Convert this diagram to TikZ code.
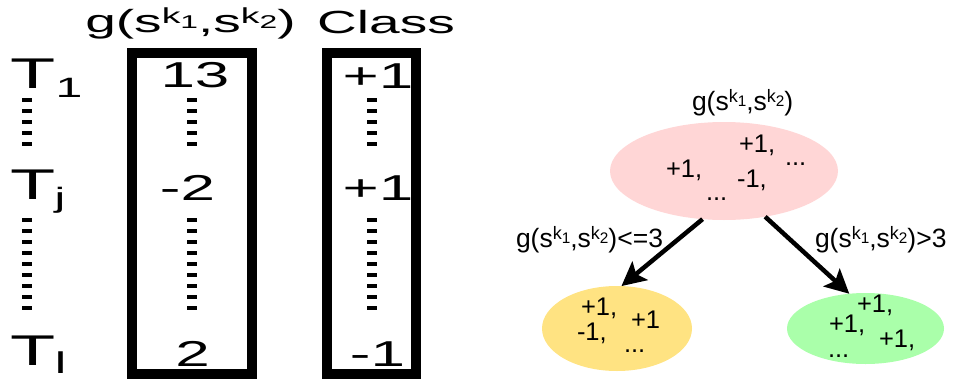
\documentclass[tikz,border=0pt]{standalone}
\usepackage{fontspec}
\usepackage{graphicx}
\setmainfont{Liberation Sans}
\usetikzlibrary{shapes.geometric,arrows.meta}
\definecolor{pinkfill}{RGB}{255,214,214}
\definecolor{yelfill}{RGB}{255,227,130}
\definecolor{grnfill}{RGB}{170,255,170}
\newcommand{\wx}[1]{\scalebox{1.72}[1]{#1}}
\newcommand{\kk}[1]{\raisebox{0.27em}{\scalebox{0.68}{k\raisebox{-0.22em}{\scalebox{0.85}{#1}}}}}
\newcommand{\gsk}{g(s\kk{1},s\kk{2})}
\begin{document}
\begin{tikzpicture}[x=1pt,y=-1pt,
  every node/.style={inner sep=0pt, outer sep=0pt},
  tletter/.style={anchor=base, font=\fontsize{43}{43}\selectfont},
  tsub/.style={anchor=base, font=\fontsize{28}{28}\selectfont},
  cell/.style={anchor=base, font=\fontsize{36}{36}\selectfont},
  head/.style={anchor=base, font=\fontsize{32}{32}\selectfont},
  colbox/.style={draw, line width=9.5pt, minimum height=321pt},
  dotcol/.style={line width=10pt, dash pattern=on 4pt off 7pt},
  tlab/.style={anchor=base west, font=\fontsize{26.5}{26.5}\selectfont},
  val/.style={anchor=base west, font=\fontsize{25.5}{25.5}\selectfont},
  arr/.style={line width=4.5pt, -{Stealth[length=24pt,width=24pt,inset=5pt]}}
]
\useasboundingbox (0,0) rectangle (953,383);

% header
\node[head] (hg) at (190.5,32) {\wx{\gsk}};
\node[head] (hc) at (386,33) {\wx{Class}};

% T labels
\node[tletter] (t1) at (33,88) {\wx{T}};
\node[tsub] (t1s) at (69,97) {\wx{1}};
\node[tletter] (tj) at (33,199) {\wx{T}};
\node[tsub] (tjs) at (60,207) {\wx{j}};
\node[tletter] (tl) at (33,365) {\wx{T}};
\node[tsub, font=\fontsize{30}{30}\selectfont] (tls) at (60.5,373) {\wx{l}};
\draw[dotcol] (27,98) -- (27,147);
\draw[dotcol] (27,218) -- (27,310);

% boxes
\node[colbox, minimum width=120pt] (box1) at (192,213.5) {};
\node[colbox, minimum width=89pt] (box2) at (371.5,213.5) {};

% box 1 content
\node[cell] (v1) at (195,87) {\wx{13}};
\draw[dotcol] (192,98) -- (192,147);
\node[cell] (vj) at (187.5,200) {\wx{-2}};
\draw[dotcol] (192,218) -- (192,310);
\node[cell] (vl) at (192.5,366) {\wx{2}};

% box 2 content
\node[cell] (c1) at (378,88) {\wx{+1}};
\draw[dotcol] (372,98) -- (372,147);
\node[cell] (cj) at (378,200) {\wx{+1}};
\draw[dotcol] (372,218) -- (372,310);
\node[cell] (cl) at (377.5,366) {\wx{-1}};

% tree
\node[tlab] (rootlab) at (692,110) {\gsk};
\node[ellipse, fill=pinkfill, minimum width=228pt, minimum height=98pt] (root) at (724,171) {};
\node[ellipse, fill=yelfill, minimum width=150pt, minimum height=85pt] (yes) at (617,328.5) {};
\node[ellipse, fill=grnfill, minimum width=157pt, minimum height=71pt] (no) at (865.5,328.5) {};

\node[val] (r1) at (739,152) {+1,};
\node[val] (r2) at (785,165) {...};
\node[val] (r3) at (666,177) {+1,};
\node[val] (r4) at (737,187) {-1,};
\node[val] (r5) at (706,200) {...};

\node[val] (y1) at (581,315.5) {+1,};
\node[val] (y2) at (631,328) {+1};
\node[val] (y3) at (577,340) {-1,};
\node[val] (y4) at (624,352) {...};

\node[val] (g1) at (857,312) {+1,};
\node[val] (g2) at (829,332.5) {+1,};
\node[val] (g3) at (879,347) {+1,};
\node[val] (g4) at (828,357) {...};

\draw[arr] (root.246.7) -- (yes.84);
\draw[arr] (root.312) -- (no.115);
\node[tlab] (ylab) at (516,247) {\gsk<=3};
\node[tlab] (nlab) at (815,247) {\gsk>3};
\end{tikzpicture}
\end{document}
